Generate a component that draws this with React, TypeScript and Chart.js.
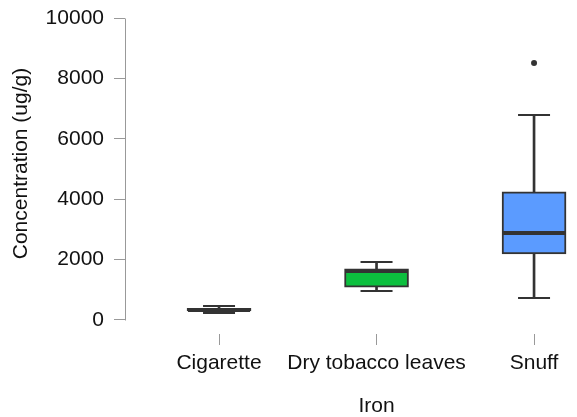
import { useEffect, useRef } from 'react';
import { Chart, registerables } from 'chart.js';

Chart.register(...registerables);

const CATEGORIES = ['Cigarette', 'Dry tobacco leaves', 'Snuff'];
const POSITIONS = [1, 2, 3];
const WHISKER_LOW = [230, 960, 730];
const Q1 = [300, 1090, 2185];
const MEDIAN = [340, 1610, 2880];
const Q3 = [390, 1690, 4240];
const WHISKER_HIGH = [470, 1920, 6790];
const OUTLIER_X = [3];
const OUTLIER_Y = [8510];
const BOX_COLORS = ['#333333', '#0cbf3e', '#5b9bff'];
const Y_TICKS = [0, 2000, 4000, 6000, 8000, 10000];
const X_TITLE = 'Iron';
const Y_TITLE = 'Concentration (ug/g)';

const FONT = "'Liberation Sans', Arial, Helvetica, sans-serif";
const DARK = '#333333';
const AXIS_GREY = '#999999';
const TEXT = '#111111';

const boxExtras = {
  id: 'boxExtras',
  afterDatasetsDraw(chart: any) {
    const { ctx, scales } = chart;
    const x = scales.x;
    const y = scales.y;
    ctx.save();
    ctx.strokeStyle = DARK;
    ctx.lineCap = 'butt';
    POSITIONS.forEach((p, i) => {
      const cx = x.getPixelForValue(p);
      ctx.lineWidth = 2;
      [WHISKER_LOW[i], WHISKER_HIGH[i]].forEach((v) => {
        const py = Math.round(y.getPixelForValue(v));
        ctx.beginPath();
        ctx.moveTo(cx - 16, py);
        ctx.lineTo(cx + 16, py);
        ctx.stroke();
      });
      ctx.lineWidth = 4;
      const my = Math.round(y.getPixelForValue(MEDIAN[i]));
      ctx.beginPath();
      ctx.moveTo(cx - 31, my);
      ctx.lineTo(cx + 31, my);
      ctx.stroke();
    });
    ctx.restore();
  },
  afterDraw(chart: any) {
    const { ctx, scales, chartArea } = chart;
    const x = scales.x;
    const y = scales.y;
    ctx.save();
    ctx.strokeStyle = AXIS_GREY;
    ctx.lineWidth = 1;
    const sx = Math.round(chartArea.left) + 0.5;
    ctx.beginPath();
    ctx.moveTo(sx, Math.round(y.getPixelForValue(Y_TICKS[0])) + 0.5);
    ctx.lineTo(sx, Math.round(y.getPixelForValue(Y_TICKS[Y_TICKS.length - 1])) + 0.5);
    ctx.stroke();
    ctx.fillStyle = TEXT;
    ctx.font = `21px ${FONT}`;
    ctx.textAlign = 'center';
    ctx.textBaseline = 'alphabetic';
    ctx.fillText(X_TITLE, x.getPixelForValue(POSITIONS[1]), 412);
    ctx.translate(27, 163.5);
    ctx.rotate(-Math.PI / 2);
    ctx.fillText(Y_TITLE, 0, 0);
    ctx.restore();
  },
};

export default function App() {
  const ref = useRef<HTMLCanvasElement>(null);
  useEffect(() => {
    const chart = new Chart(ref.current as HTMLCanvasElement, {
      type: 'bar',
      data: {
        datasets: [
          {
            type: 'scatter',
            data: OUTLIER_X.map((v, i) => ({ x: v, y: OUTLIER_Y[i] })),
            pointRadius: 3,
            pointBackgroundColor: DARK,
            pointBorderWidth: 0,
            order: 0,
          } as any,
          {
            type: 'bar',
            data: POSITIONS.map((p, i) => ({ x: p, y: [Q1[i], Q3[i]] })),
            backgroundColor: BOX_COLORS,
            borderColor: DARK,
            borderWidth: 2,
            borderSkipped: false,
            barThickness: 64,
            grouped: false,
            order: 1,
          } as any,
          {
            type: 'bar',
            data: POSITIONS.map((p, i) => ({ x: p, y: [WHISKER_LOW[i], WHISKER_HIGH[i]] })),
            backgroundColor: DARK,
            borderWidth: 0,
            barThickness: 2,
            grouped: false,
            order: 2,
          } as any,
        ],
      },
      options: {
        animation: false,
        responsive: true,
        maintainAspectRatio: false,
        layout: { padding: { top: 18, right: 5, left: 0, bottom: 0 } },
        plugins: { legend: { display: false }, tooltip: { enabled: false } },
        scales: {
          x: {
            type: 'linear',
            min: 0.403,
            max: 3.241,
            offset: false,
            border: { display: false },
            grid: { offset: false, drawOnChartArea: false, drawTicks: true, tickLength: 11, color: AXIS_GREY },
            ticks: {
              padding: 6,
              color: TEXT,
              font: { size: 21, family: FONT },
              autoSkip: false,
              maxRotation: 0,
              callback: (v: any) => {
                const idx = POSITIONS.indexOf(Number(v));
                return idx >= 0 ? CATEGORIES[idx] : '';
              },
            },
            afterBuildTicks: (s: any) => {
              s.ticks = POSITIONS.map((v) => ({ value: v }));
            },
            afterFit: (s: any) => {
              s.height = 83;
              s.paddingLeft = 0;
              s.paddingRight = 0;
            },
          },
          y: {
            type: 'linear',
            min: -464,
            max: 10000,
            border: { display: false },
            grid: { drawOnChartArea: false, drawTicks: true, tickLength: 11, color: AXIS_GREY },
            ticks: {
              padding: 10,
              color: TEXT,
              font: { size: 21, family: FONT },
              callback: (v: any) => String(v),
            },
            afterBuildTicks: (s: any) => {
              s.ticks = Y_TICKS.map((v) => ({ value: v }));
            },
            afterFit: (s: any) => {
              s.width = 125;
              s.paddingTop = 0;
              s.paddingBottom = 0;
            },
          },
        },
      } as any,
      plugins: [boxExtras],
    });
    return () => chart.destroy();
  }, []);
  return (
    <div style={{ position: 'fixed', left: 0, top: 0, width: 577, height: 417, background: '#fff' }}>
      <canvas ref={ref} />
    </div>
  );
}
